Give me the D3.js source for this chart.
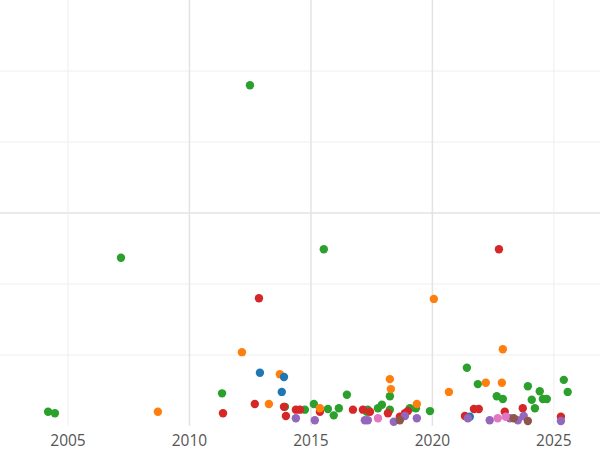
<!DOCTYPE html><html><head><meta charset="utf-8"><script src="https://cdn.jsdelivr.net/npm/d3@7"></script>
<style>body{margin:0;background:#fff}</style></head><body><svg id="c" width="600" height="450"></svg><script>
const xTicks=[2005,2010,2015,2020,2025];
const greenX=[2004.18,2004.46,2007.18,2011.34,2012.49,2015.53,2013.93,2015.12,2015.70,2015.94,2016.15,2016.48,2017.34,2017.76,2017.92,2018.25,2018.25,2019.07,2019.32,2019.90,2021.42,2021.87,2022.65,2022.90,2023.93,2024.09,2024.22,2024.42,2024.55,2024.71,2025.41,2025.57,2017.30,2014.75];
const greenY=[0.20,0.18,2.37,0.46,4.80,2.49,0.27,0.31,0.24,0.15,0.25,0.44,0.23,0.25,0.30,0.42,0.23,0.25,0.25,0.21,0.82,0.59,0.42,0.38,0.56,0.37,0.25,0.49,0.38,0.38,0.65,0.48,0.20,0.23];
const redX=[2011.38,2012.69,2012.86,2013.89,2013.97,2014.38,2014.55,2015.37,2016.73,2017.14,2017.43,2018.17,2018.66,2018.87,2018.99,2021.34,2021.71,2021.91,2022.74,2022.98,2023.72,2025.29];
const redY=[0.18,0.31,1.80,0.27,0.14,0.23,0.23,0.20,0.23,0.23,0.20,0.18,0.13,0.18,0.21,0.14,0.24,0.24,2.49,0.20,0.25,0.13];
const orangeX=[2008.70,2012.16,2013.27,2013.72,2018.25,2018.29,2019.36,2020.06,2020.68,2022.20,2022.90,2022.86,2015.37];
const orangeY=[0.20,1.04,0.31,0.73,0.66,0.52,0.31,1.79,0.48,0.61,1.08,0.61,0.25];
const blueX=[2012.90,2013.89,2013.80,2021.54];
const blueY=[0.75,0.69,0.48,0.13];
const purpleX=[2014.38,2015.16,2017.22,2017.34,2018.41,2018.87,2019.36,2021.46,2022.36,2023.19,2023.52,2023.76,2025.29];
const purpleY=[0.11,0.08,0.08,0.08,0.06,0.14,0.11,0.11,0.08,0.11,0.08,0.14,0.07];
const pinkX=[2017.76,2022.69,2023.02];
const pinkY=[0.11,0.11,0.13];
const brownX=[2018.66,2023.93,2023.35];
const brownY=[0.08,0.07,0.11];
const series=[["#2ca02c",greenX,greenY],["#d62728",redX,redY],["#ff7f0e",orangeX,orangeY],["#1f77b4",blueX,blueY],["#9467bd",purpleX,purpleY],["#e377c2",pinkX,pinkY],["#8c564b",brownX,brownY]];
const svg=d3.select("#c");
const x=d3.scaleLinear().domain([2002.2,2026.9]).range([0,600]);
const y=d3.scaleLinear().domain([0,6]).range([426,0]);
svg.append("g").selectAll("line").data([1,2,3,4,5]).join("line").attr("x1",0).attr("x2",600).attr("y1",d=>y(d)).attr("y2",d=>y(d)).attr("stroke",d=>d==3?"#e3e3e3":"#eeeeee").attr("stroke-width",d=>d==3?1.5:1);
svg.append("g").selectAll("line").data(xTicks).join("line").attr("x1",d=>x(d)).attr("x2",d=>x(d)).attr("y1",0).attr("y2",426).attr("stroke",d=>(d==2005||d==2025)?"#eeeeee":"#e3e3e3").attr("stroke-width",d=>(d==2005||d==2025)?1:1.5);
svg.append("g").selectAll("text").data(xTicks).join("text").attr("x",d=>x(d)).attr("y",446).attr("text-anchor","middle").attr("font-family","Open Sans, sans-serif").attr("font-size",15.5).attr("fill","#555").text(d=>d);
series.forEach(([c,xs,ys])=>{svg.append("g").selectAll("circle").data(xs.map((v,i)=>[v,ys[i]])).join("circle").attr("cx",d=>x(d[0])).attr("cy",d=>y(d[1])).attr("r",4.2).attr("fill",c);});
</script></body></html>
